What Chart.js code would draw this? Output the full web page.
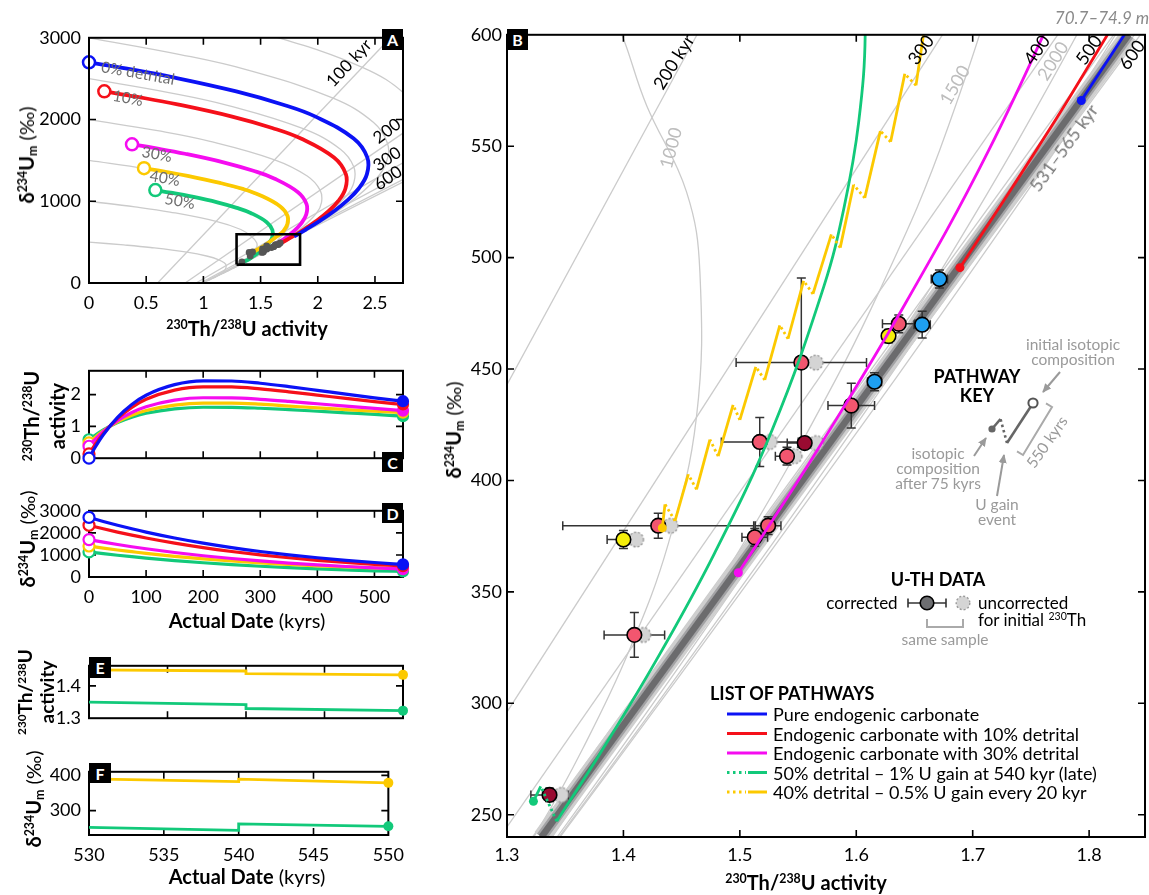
<!DOCTYPE html>
<html><head><meta charset="utf-8"><title>U-series pathways</title>
<script src="https://cdn.jsdelivr.net/npm/chart.js@4.4.1/dist/chart.umd.min.js"></script>
<style>
body{margin:0;background:#fff;}
#wrap{position:relative;width:1149px;height:895px;overflow:hidden;font-family:Lato,'Noto Sans',sans-serif;color:#000;background:#fff;}
canvas{position:absolute;}
.t{position:absolute;white-space:nowrap;transform:translate(-50%,-50%);line-height:1.1;}
.b{font-weight:bold;}
.g{color:#6e6e6e;font-size:15.5px;}
.lg{color:#9a9a9a;font-size:15.5px;text-align:center;line-height:15px;}
.k{font-size:18px;}
.box{position:absolute;background:#000;color:#fff;font-weight:bold;font-size:16px;display:flex;align-items:center;justify-content:center;}
sup{font-size:0.62em;vertical-align:0;position:relative;top:-0.55em;}
sub{font-size:0.62em;vertical-align:0;position:relative;top:0.25em;}
.lt{position:absolute;font-size:18px;white-space:nowrap;transform:translateY(-50%);}
</style></head><body>
<div id="wrap">
<canvas id="cA" width="384" height="304" style="left:29px;top:19px"></canvas>
<canvas id="cC" width="384" height="125" style="left:29px;top:352px"></canvas>
<canvas id="cD" width="384" height="125" style="left:29px;top:492px"></canvas>
<canvas id="cE" width="384" height="90" style="left:29px;top:647px"></canvas>
<canvas id="cF" width="384" height="122" style="left:29px;top:753px"></canvas>
<canvas id="cB" width="692" height="858" style="left:457px;top:19px"></canvas>

<svg width="1149" height="895" style="position:absolute;left:0;top:0">
<defs><marker id="ah" viewBox="0 0 10 10" refX="9" refY="5" markerWidth="4.5" markerHeight="4.5" orient="auto"><path d="M0,0.5 L10,5 L0,9.5 z" fill="#9a9a9a"/></marker></defs>
<line x1="1007" y1="443" x2="1000.5" y2="419" stroke="#666" stroke-width="2.6" stroke-dasharray="2.5,3"/>
<line x1="1000.5" y1="419" x2="992" y2="429" stroke="#666" stroke-width="2.6"/>
<circle cx="992" cy="429" r="3.6" fill="#666"/>
<line x1="1030.5" y1="407" x2="1007" y2="443" stroke="#666" stroke-width="2.6"/>
<circle cx="1033" cy="403" r="4.6" fill="#fff" stroke="#555" stroke-width="2"/>
<polyline points="1046,403.4 1052,407 1023,455 1017,451.4" fill="none" stroke="#aaa" stroke-width="2"/>
<line x1="1060" y1="372" x2="1043" y2="392" stroke="#9a9a9a" stroke-width="2" marker-end="url(#ah)"/>
<line x1="974" y1="456" x2="986" y2="438" stroke="#9a9a9a" stroke-width="2" marker-end="url(#ah)"/>
<line x1="997" y1="496" x2="1004" y2="455" stroke="#9a9a9a" stroke-width="2" marker-end="url(#ah)"/>
<line x1="908" y1="603" x2="946" y2="603" stroke="#333" stroke-width="1.6"/>
<line x1="908" y1="598.5" x2="908" y2="607.5" stroke="#333" stroke-width="1.6"/>
<line x1="946" y1="598.5" x2="946" y2="607.5" stroke="#333" stroke-width="1.6"/>
<circle cx="927" cy="603" r="6.8" fill="#6d6e71" stroke="#000" stroke-width="1.6"/>
<circle cx="963" cy="603" r="6.8" fill="#d5d5d5" stroke="#9a9a9a" stroke-width="1.4" stroke-dasharray="2,2"/>
<polyline points="927,619 927,627 963,627 963,619" fill="none" stroke="#aaa" stroke-width="2"/>
<line x1="727" y1="714" x2="767" y2="714" stroke="#0b12f5" stroke-width="3"/>
<line x1="727" y1="733.5" x2="767" y2="733.5" stroke="#f5101a" stroke-width="3"/>
<line x1="727" y1="753" x2="767" y2="753" stroke="#f50cf0" stroke-width="3"/>
<line x1="727" y1="772.5" x2="746" y2="772.5" stroke="#12c97a" stroke-width="3" stroke-dasharray="2.5,3.5"/>
<line x1="748" y1="772.5" x2="767" y2="772.5" stroke="#12c97a" stroke-width="3"/>
<line x1="727" y1="792" x2="746" y2="792" stroke="#fcc900" stroke-width="3" stroke-dasharray="2.5,3.5"/>
<line x1="748" y1="792" x2="767" y2="792" stroke="#fcc900" stroke-width="3"/>
</svg>

<div class="box" style="left:382px;top:29px;width:21px;height:21px">A</div>
<div class="box" style="left:507px;top:29px;width:21px;height:21px">B</div>
<div class="box" style="left:382px;top:452px;width:21px;height:20px">C</div>
<div class="box" style="left:382px;top:503px;width:21px;height:20px">D</div>
<div class="box" style="left:89px;top:657px;width:22px;height:21px">E</div>
<div class="box" style="left:89px;top:763px;width:22px;height:20px">F</div>

<div class="t b" style="left:247px;top:328px;font-size:20px"><sup>230</sup>Th/<sup>238</sup>U activity</div>
<div class="t" style="left:26px;top:155px;transform:translate(-50%,-50%) rotate(-90deg);font-size:20px"><b>δ<sup>234</sup>U<sub>m</sub></b> (‰)</div>
<div class="t g" style="left:138px;top:73px;transform:translate(-50%,-50%) rotate(10deg)">0% detrital</div>
<div class="t g" style="left:128px;top:98px;transform:translate(-50%,-50%) rotate(10deg)">10%</div>
<div class="t g" style="left:157px;top:154px;transform:translate(-50%,-50%) rotate(10deg)">30%</div>
<div class="t g" style="left:165px;top:178px;transform:translate(-50%,-50%) rotate(10deg)">40%</div>
<div class="t g" style="left:180px;top:201px;transform:translate(-50%,-50%) rotate(10deg)">50%</div>
<div class="t" style="left:349px;top:63px;font-size:17px;transform:translate(-50%,-50%) rotate(-47deg)">100 kyr</div>
<div class="t" style="left:387px;top:131px;font-size:17px;transform:translate(-50%,-50%) rotate(-37deg)">200</div>
<div class="t" style="left:387px;top:159px;font-size:17px;transform:translate(-50%,-50%) rotate(-34deg)">300</div>
<div class="t" style="left:388px;top:178px;font-size:17px;transform:translate(-50%,-50%) rotate(-34deg)">600</div>

<div class="t b" style="left:44px;top:416px;transform:translate(-50%,-50%) rotate(-90deg);font-size:20px;text-align:center;line-height:22px"><sup>230</sup>Th/<sup>238</sup>U<br>activity</div>
<div class="t" style="left:27px;top:539px;transform:translate(-50%,-50%) rotate(-90deg);font-size:20px"><b>δ<sup>234</sup>U<sub>m</sub></b> (‰)</div>
<div class="t" style="left:247px;top:620px;font-size:20px"><b>Actual Date</b> (kyrs)</div>
<div class="t b" style="left:35px;top:692px;transform:translate(-50%,-50%) rotate(-90deg);font-size:19px;text-align:center;line-height:19px"><sup>230</sup>Th/<sup>238</sup>U<br>activity</div>
<div class="t" style="left:33px;top:799px;transform:translate(-50%,-50%) rotate(-90deg);font-size:20px"><b>δ<sup>234</sup>U<sub>m</sub></b> (‰)</div>
<div class="t" style="left:247px;top:876px;font-size:20px"><b>Actual Date</b> (kyrs)</div>

<div class="t b" style="left:806px;top:882px;font-size:20px"><sup>230</sup>Th/<sup>238</sup>U activity</div>
<div class="t" style="left:453px;top:430px;transform:translate(-50%,-50%) rotate(-90deg);font-size:20px"><b>δ<sup>234</sup>U<sub>m</sub></b> (‰)</div>
<div class="t" style="left:1102px;top:18px;font-size:17px;font-style:italic;color:#8a8a8a">70.7–74.9 m</div>
<div class="t k" style="left:674px;top:62px;transform:translate(-50%,-50%) rotate(-58deg)">200 kyr</div>
<div class="t k" style="left:671px;top:148px;color:#bdbdbd;transform:translate(-50%,-50%) rotate(-75deg)">1000</div>
<div class="t k" style="left:921px;top:50px;transform:translate(-50%,-50%) rotate(-55deg)">300</div>
<div class="t k" style="left:955px;top:85px;color:#bdbdbd;transform:translate(-50%,-50%) rotate(-60deg)">1500</div>
<div class="t k" style="left:1037px;top:50px;transform:translate(-50%,-50%) rotate(-55deg)">400</div>
<div class="t k" style="left:1053px;top:61px;color:#bdbdbd;transform:translate(-50%,-50%) rotate(-58deg)">2000</div>
<div class="t k" style="left:1089px;top:50px;transform:translate(-50%,-50%) rotate(-55deg)">500</div>
<div class="t k" style="left:1132px;top:55px;transform:translate(-50%,-50%) rotate(-55deg)">600</div>
<div class="t k" style="left:1064px;top:148px;color:#777;transform:translate(-50%,-50%) rotate(-54deg)">531–565 kyr</div>

<div class="t b" style="left:977px;top:386px;font-size:18px;text-align:center;line-height:19px">PATHWAY<br>KEY</div>
<div class="t lg" style="left:1073px;top:352px">initial isotopic<br>composition</div>
<div class="t lg" style="left:938px;top:468px">isotopic<br>composition<br>after 75 kyrs</div>
<div class="t lg" style="left:997px;top:512px">U gain<br>event</div>
<div class="t lg" style="left:1047px;top:442px;transform:translate(-50%,-50%) rotate(-55deg)">550 kyrs</div>

<div class="t b" style="left:938px;top:580px;font-size:18px">U-TH DATA</div>
<div class="t" style="left:862px;top:603px;font-size:17px">corrected</div>
<div style="position:absolute;left:978px;top:594px;font-size:17px;line-height:17px;white-space:nowrap">uncorrected<br>for initial <sup>230</sup>Th</div>
<div class="t lg" style="left:945px;top:639px">same sample</div>

<div class="lt b" style="left:710px;top:693px">LIST OF PATHWAYS</div>
<div class="lt" style="left:773px;top:714px">Pure endogenic carbonate</div>
<div class="lt" style="left:773px;top:733.5px">Endogenic carbonate with 10% detrital</div>
<div class="lt" style="left:773px;top:753px">Endogenic carbonate with 30% detrital</div>
<div class="lt" style="left:773px;top:772.5px">50% detrital – 1% U gain at 540 kyr (late)</div>
<div class="lt" style="left:773px;top:792px">40% detrital – 0.5% U gain every 20 kyr</div>
</div>

<script>
// ---------------- DATA ----------------
const tKyr   = [0,10,25,50,75,100,150,200,250,300,350,400,450,500,550];
const blueTh = [0,0.3204,0.7373,1.2874,1.6911,1.9806,2.3139,2.4334,2.4296,2.3582,2.2533,2.1350,2.0152,1.9001,1.7933];
const blueU  = [2700,2624.8,2515.8,2344.2,2184.2,2035.3,1767.0,1534.2,1332.0,1156.4,1004.0,871.7,756.9,657.1,570.5];
const redTh  = [0.134,0.4121,0.7739,1.2512,1.6016,1.8527,2.1418,2.2454,2.2419,2.1799,2.0886,1.9859,1.8818,1.7818,1.6890];
const redU   = [2345,2279.6,2185.0,2036.0,1897.1,1767.7,1534.7,1332.5,1156.9,1004.4,872.0,757.1,657.4,570.7,495.5];
const magTh  = [0.376,0.5770,0.8385,1.1835,1.4366,1.6181,1.8270,1.9017,1.8990,1.8539,1.7879,1.7135,1.6381,1.5658,1.4987];
const magU   = [1697,1649.7,1581.2,1473.4,1372.8,1279.2,1110.6,964.3,837.2,726.8,631.0,547.9,475.7,413.0,358.6];
const yelTh  = [0.481,0.648,0.862,1.145,1.352,1.500,1.672,1.735,1.735,1.700,1.641,1.583,1.530,1.478,1.434];
const yelU   = [1405,1366,1311,1225,1148,1071,937,823,725,637,568,507,456,413,379];
const grnTh  = [0.58,0.7148,0.8903,1.1218,1.2916,1.4134,1.5536,1.6038,1.6021,1.5721,1.5278,1.4780,1.4275,1.3790,1.3234];
const grnU   = [1137,1105.3,1059.4,987.2,919.8,857.1,744.1,646.1,560.9,487.0,422.8,367.1,318.7,276.7,255.7];

const tLate      = [530,540,540,550];
const yelThLate  = [1.4496,1.4460,1.4377,1.4340];
const grnThLate  = [1.3500,1.3420,1.3300,1.3234];
const yelULate   = [390.2,382.0,389.3,378.7];
const grnULate   = [252.5,244.3,262.3,255.7];

const isoAges  = [100,200,300,400,500,600];
const isoA_x0  = [0.600,0.840,0.936,0.974,0.990,0.996];
const isoA_x3k = [2.635,3.956,4.626,4.968,5.146,5.238];
const arc500X  = [0,0.3033,0.5378,0.8555,1.0370,1.1350,1.1822,1.1994,1.1893,1.1583,1.1256,1.0742,1.0427];
const arc500U  = [500,465.9,434.1,376.9,327.2,284.1,246.7,214.2,161.4,121.7,91.7,52.1,29.6];
const arc1000X = [0,0.4019,0.7081,1.1112,1.3273,1.4200,1.4657,1.4627,1.4043,1.3269,1.2554,1.1493,1.0854];
const arc1000U = [1000,931.8,868.2,753.8,654.5,568.2,493.3,428.3,322.9,243.4,183.5,104.3,59.2];
const arc1500X = [0,0.5006,0.8785,1.3669,1.6175,1.7251,1.7492,1.7262,1.6192,1.4955,1.3850,1.2241,1.1283];
const arc1500U = [1500,1397.7,1302.3,1130.7,981.7,852.3,740.0,642.5,484.3,365.1,275.2,156.4,88.9];
const arc2000X = [0,0.5992,1.0489,1.6226,1.9076,2.0202,2.0327,1.9895,1.8341,1.6640,1.5147,1.2990,1.1710];
const arc2000U = [2000,1863.6,1736.4,1507.6,1308.9,1136.4,986.7,856.6,645.7,486.7,366.9,208.5,118.5];
const arc2500X = [0,0.6979,1.2193,1.8783,2.1979,2.3153,2.3163,2.2529,2.0491,1.8326,1.6444,1.3740,1.2137];
const arc2500U = [2500,2329.5,2170.5,1884.5,1636.2,1420.5,1233.4,1070.8,807.2,608.4,458.6,260.7,148.1];
const arc3000X = [0,0.7965,1.3896,2.1340,2.4881,2.6104,2.5997,2.5163,2.2640,2.0012,1.7741,1.4489,1.2565];
const arc3000U = [3000,2795.3,2604.6,2261.4,1963.4,1704.6,1480.0,1284.9,968.6,730.1,550.4,312.8,177.7];
const arc3500X = [0,0.8952,1.5600,2.3897,2.7783,2.9055];
const arc3500U = [3500,3261.2,3038.7,2638.3,2290.6,1988.7];
const boxX = [1.29,1.845,1.845,1.29,1.29];
const boxU = [225,225,597,597,225];

const isoB_xLo = [1.089,1.231,1.294,1.322,1.335];
const isoB_xHi = [1.4632,1.674,1.773,1.821,1.844];
const isoB_yLo = 240, isoB_yHi = 600;
const bandX = [1.3296,1.8340];
const bandU = [240,600];
const c1000X = [1.3273,1.3894,1.4200,1.4542,1.4657,1.4627,1.4387,1.4043,1.3657,1.3269,1.2554];
const c1000U = [654.5,609.8,568.2,529.5,493.3,428.3,371.9,322.9,280.3,243.4,183.5];
const c1500X = [1.7492,1.7262,1.6783,1.6192,1.5568,1.4955,1.4379,1.3850,1.3373,1.2948];
const c1500U = [740.0,642.5,557.8,484.3,420.5,365.1,317.0,275.2,238.9,207.4];
const c2000X = [1.9178,1.8341,1.7478,1.6640,1.5860,1.5147,1.4507,1.3937,1.3432,1.2990];
const c2000U = [743.7,645.7,560.7,486.7,422.6,366.9,318.6,276.6,240.1,208.5];
const c2500X = [1.9388,1.8326,1.7341,1.6444,1.5640,1.4924,1.4294,1.3740,1.3254];
const c2500U = [700.9,608.4,528.3,458.6,398.2,345.7,300.2,260.7,226.3];
const c3000X = [2.0012,1.8822,1.7741,1.6774,1.5912,1.4489,1.3395];
const c3000U = [730.1,633.9,550.4,477.9,414.8,312.8,235.7];
const bBlueX = [1.9001,1.8456,1.7933];
const bBlueU = [657.1,612.3,570.5];
const bRedX  = [1.8818,1.7818,1.7344,1.6890];
const bRedU  = [657.4,570.7,531.8,495.5];
const bMagX  = [1.7879,1.7135,1.6381,1.5658,1.5314,1.4987];
const bMagU  = [631.0,547.9,475.7,413.0,384.8,358.6];
const bGrnX  = [1.6038,1.6077,1.6021,1.5896,1.5721,1.5278,1.4780,1.4275,1.3790,1.3427,1.3290,1.3227];
const bGrnU  = [646.1,602.0,560.9,522.7,487.0,422.8,367.1,318.7,276.7,247.1,262.7,256.0];
const bYelX  = [1.6578,1.6513,1.6417,1.6295,1.6207,1.6073,1.5977,1.5862,1.5786,1.5628,1.5548,1.5414,1.5343,1.5214,1.5137,1.5000,1.4942,1.4814,1.4743,1.4628,1.4557,1.4443,1.4357,1.4334];
const bYelU  = [600.3,577.3,582.5,552.0,556.8,526.8,532.7,504.5,510.4,483.7,489.6,463.6,469.6,445.1,451.0,427.2,433.9,410.9,418.3,396.0,402.7,381.9,389.3,378.7];
const sampX    = [1.5528,1.5171,1.5557,1.5405,1.5957,1.6157,1.6365,1.6277,1.6566,1.6714,1.4299,1.4000,1.5243,1.5128,1.4094,1.3365];
const sampU    = [452.9,417.3,416.8,410.9,433.6,444.3,470.3,464.8,469.9,490.4,379.7,373.5,379.7,374.5,330.7,258.9];
const sampXerr = [0.056,0.033,0.015,0.010,0.020,0.006,0.014,0.004,0.007,0.007,0.082,0.014,0.011,0.011,0.026,0.016];
const sampUerr = [38,11,2,4,10,4,4,3,6,4,5.6,4,4,4,10,3];
const uncorrX  = [1.5651,1.5257,1.5657,1.5471,null,null,null,null,null,null,1.4405,1.4109,null,null,1.4171,1.3465];
const sampType = ['pink','pink','maroon','pink','pink','blue','pink','yellow','blue','blue','pink','yellow','pink','pink','pink','maroon'];

// ---------------- STYLE ----------------
const COL = {blue:'#0b12f5', red:'#f5101a', mag:'#f50cf0', yel:'#fcc900', grn:'#12c97a'};
const PTC = {pink:'#f2566f', maroon:'#990b31', yellow:'#f4ee0b', blue:'#1e9ff1'};
const GREY = '#cbcbcb';
Chart.defaults.font.family = "Lato, 'Noto Sans', sans-serif";

const pts = (xs, ys) => xs.map((x, i) => ({x, y: ys[i]}));
function ln(xs, ys, color, w, extra) {
  return Object.assign({data: pts(xs, ys), showLine: true, borderColor: color, borderWidth: w,
    pointRadius: 0, pointHoverRadius: 0, fill: false, clip: 0, tension: 0}, extra || {});
}
const lastIdx = c => c.dataIndex === c.dataset.data.length - 1;
const endDot = (color, r) => ({pointRadius: c => lastIdx(c) ? r : 0, pointBackgroundColor: color, pointBorderColor: color, pointBorderWidth: 0});
const startEnd = (color, r0, r1) => ({clip: false,
  pointRadius: c => c.dataIndex === 0 ? r0 : (lastIdx(c) ? r1 : 0),
  pointBackgroundColor: c => c.dataIndex === 0 ? '#fff' : color,
  pointBorderColor: color, pointBorderWidth: 2.2});
const jumpDash = {segment: {borderDash: c => c.p1.parsed.y > c.p0.parsed.y ? [2.5, 3] : undefined}};

const framePlugin = {
  id: 'frame',
  _draw(chart) {
    const {ctx, chartArea: a} = chart;
    const len = 7;
    ctx.save();
    ctx.strokeStyle = '#000';
    ctx.lineWidth = 1.6;
    ctx.beginPath();
    for (const id of ['x', 'y']) {
      const s = chart.scales[id];
      for (const t of s.ticks) {
        const p = s.getPixelForValue(t.value);
        if (id === 'x') {
          if (p <= a.left + 2 || p >= a.right - 2) continue;
          ctx.moveTo(p, a.bottom); ctx.lineTo(p, a.bottom - len);
          ctx.moveTo(p, a.top); ctx.lineTo(p, a.top + len);
        } else {
          if (p <= a.top + 2 || p >= a.bottom - 2) continue;
          ctx.moveTo(a.left, p); ctx.lineTo(a.left + len, p);
          ctx.moveTo(a.right, p); ctx.lineTo(a.right - len, p);
        }
      }
    }
    ctx.stroke();
    ctx.lineWidth = 2;
    ctx.strokeRect(a.left, a.top, a.right - a.left, a.bottom - a.top);
    ctx.restore();
  },
  beforeDatasetsDraw(chart, args, o) { if (o.under) this._draw(chart); },
  afterDatasetsDraw(chart, args, o) { if (!o.under) this._draw(chart); }
};

const errPlugin = {
  id: 'err',
  beforeDatasetDraw(chart, args) {
    const ds = chart.data.datasets[args.index];
    if (!ds.drawErrors) return;
    const {ctx, chartArea: a} = chart;
    const x = chart.scales.x, y = chart.scales.y;
    const cap = 4.5;
    ctx.save();
    ctx.beginPath(); ctx.rect(a.left, a.top, a.right - a.left, a.bottom - a.top); ctx.clip();
    ctx.strokeStyle = '#333'; ctx.lineWidth = 1.5;
    ctx.beginPath();
    sampX.forEach((v, i) => {
      const px = x.getPixelForValue(v), py = y.getPixelForValue(sampU[i]);
      const x0 = x.getPixelForValue(v - sampXerr[i]), x1 = x.getPixelForValue(v + sampXerr[i]);
      const y0 = y.getPixelForValue(sampU[i] - sampUerr[i]), y1 = y.getPixelForValue(sampU[i] + sampUerr[i]);
      ctx.moveTo(x0, py); ctx.lineTo(x1, py);
      ctx.moveTo(x0, py - cap); ctx.lineTo(x0, py + cap);
      ctx.moveTo(x1, py - cap); ctx.lineTo(x1, py + cap);
      ctx.moveTo(px, y0); ctx.lineTo(px, y1);
      ctx.moveTo(px - cap, y0); ctx.lineTo(px + cap, y0);
      ctx.moveTo(px - cap, y1); ctx.lineTo(px + cap, y1);
    });
    ctx.stroke();
    ctx.restore();
  }
};

function sc(min, max, step, fit, show, pad) {
  return {
    type: 'linear', min, max,
    grid: {display: false, drawTicks: false}, border: {display: false},
    ticks: {stepSize: step, includeBounds: false, display: show, padding: pad, font: {size: 18}, color: '#000',
      maxRotation: 0, autoSkip: false, callback: v => String(+(+v).toFixed(3))},
    afterFit: s => { if (s.isHorizontal()) s.height = fit; else s.width = fit; }
  };
}
function mk(id, datasets, xs, ys, pad, frameOpts, extraPlugins) {
  return new Chart(document.getElementById(id), {
    type: 'scatter',
    data: {datasets},
    options: {
      responsive: false, animation: false, events: [], devicePixelRatio: 1,
      layout: {autoPadding: false, padding: pad},
      plugins: {legend: {display: false}, tooltip: {enabled: false}, frame: frameOpts || {}},
      scales: {x: xs, y: ys}
    },
    plugins: [framePlugin].concat(extraPlugins || [])
  });
}

// ---------------- PANEL A ----------------
const dsA = [];
[[arc500X,arc500U],[arc1000X,arc1000U],[arc1500X,arc1500U],[arc2000X,arc2000U],[arc2500X,arc2500U],[arc3000X,arc3000U],[arc3500X,arc3500U]]
  .forEach(([xs, ys]) => dsA.push(ln(xs, ys, GREY, 1.3, {tension: 0.4, order: 50})));
isoAges.forEach((age, i) => dsA.push(ln([isoA_x0[i], isoA_x3k[i]], [0, 3000], GREY, 1.3, {order: 51})));
const startCircle = (color) => ({clip: false, pointRadius: c => c.dataIndex === 0 ? 6 : 0,
  pointBackgroundColor: '#fff', pointBorderColor: color, pointBorderWidth: 2.5});
dsA.push(ln(grnTh, grnU, COL.grn, 3.8, Object.assign({tension: 0.4, order: 5}, startCircle(COL.grn))));
dsA.push(ln(yelTh, yelU, COL.yel, 3.8, Object.assign({tension: 0.4, order: 4}, startCircle(COL.yel))));
dsA.push(ln(magTh, magU, COL.mag, 3.8, Object.assign({tension: 0.4, order: 3}, startCircle(COL.mag))));
dsA.push(ln(redTh, redU, COL.red, 3.8, Object.assign({tension: 0.4, order: 2}, startCircle(COL.red))));
dsA.push(ln(blueTh, blueU, COL.blue, 3.8, Object.assign({tension: 0.4, order: 1}, startCircle(COL.blue))));
dsA.push({data: pts(sampX, sampU), showLine: false, pointRadius: 3.4, pointBackgroundColor: '#555', pointBorderWidth: 0, order: 0.5});
dsA.push(ln(boxX, boxU, '#000', 2.6, {order: 0, clip: false}));
mk('cA', dsA, sc(0, 2.745, 0.5, 40, true, 9), sc(0, 3000, 1000, 60, true, 8), {top: 10, right: 10, left: 0, bottom: 0});

// ---------------- PANELS C, D ----------------
function timeSets(vals) {
  const list = [[grnTh, grnU, COL.grn], [yelTh, yelU, COL.yel], [magTh, magU, COL.mag], [redTh, redU, COL.red], [blueTh, blueU, COL.blue]];
  return list.map(([th, u, c], k) => ln(tKyr, vals === 'th' ? th : u, c, 3.2,
    Object.assign({cubicInterpolationMode: 'monotone', order: 5 - k}, startEnd(c, 5.5, 5))));
}
mk('cC', timeSets('th'), sc(0, 550, 100, 0, false, 8), sc(0, 2.75, 1, 60, true, 8), {top: 10, right: 10, left: 0, bottom: 4}, {under: true});
mk('cD', timeSets('u'), sc(0, 550, 100, 40, true, 9), sc(0, 3000, 1000, 60, true, 8), {top: 10, right: 10, left: 0, bottom: 0}, {under: true});

// ---------------- PANELS E, F ----------------
mk('cE', [ln(tLate, yelThLate, COL.yel, 2.8, Object.assign({clip: false}, endDot(COL.yel, 5))),
          ln(tLate, grnThLate, COL.grn, 2.8, Object.assign({clip: false}, endDot(COL.grn, 5)))],
   sc(530, 550, 5, 0, false, 8), sc(1.3, 1.462, 0.1, 60, true, 8), {top: 10, right: 10, left: 0, bottom: 4}, {under: true});
mk('cF', [ln(tLate, yelULate, COL.yel, 2.8, Object.assign({clip: false}, endDot(COL.yel, 5))),
          ln(tLate, grnULate, COL.grn, 2.8, Object.assign({clip: false}, endDot(COL.grn, 5)))],
   sc(530, 550, 5, 40, true, 9), sc(231, 410, 100, 60, true, 8), {top: 10, right: 10, left: 0, bottom: 0}, {under: true});

// ---------------- PANEL B ----------------
function dashedCircle(r) {
  const c = document.createElement('canvas'); const s = Math.ceil(2 * r + 4);
  c.width = s; c.height = s;
  const g = c.getContext('2d');
  g.beginPath(); g.arc(s / 2, s / 2, r, 0, Math.PI * 2);
  g.fillStyle = '#d4d4d4'; g.fill();
  g.setLineDash([2.2, 1.8]); g.lineWidth = 1.4; g.strokeStyle = '#9a9a9a'; g.stroke();
  return c;
}
const dsB = [];
isoB_xLo.forEach((x0, i) => dsB.push(ln([x0, isoB_xHi[i]], [isoB_yLo, isoB_yHi], GREY, 1.3, {order: 40})));
[[c1000X,c1000U],[c1500X,c1500U],[c2000X,c2000U],[c2500X,c2500U],[c3000X,c3000U]]
  .forEach(([xs, ys]) => dsB.push(ln(xs, ys, GREY, 1.3, {tension: 0.4, order: 41})));
dsB.push(ln(bandX, bandU, '#cfcfcf', 17, {order: 32}));
dsB.push(ln(bandX, bandU, '#a2a2a4', 11, {order: 31}));
dsB.push(ln(bandX, bandU, '#6b6b6d', 6.5, {order: 30}));
const uncIdx = uncorrX.map((v, i) => v === null ? -1 : i).filter(i => i >= 0);
dsB.push({data: uncIdx.map(i => ({x: uncorrX[i], y: sampU[i]})), showLine: false, drawErrors: true,
  pointStyle: dashedCircle(7.3), pointRadius: 7.3, order: 12});
dsB.push({data: pts(sampX, sampU), showLine: false, pointRadius: 7.3, pointBorderWidth: 1.6, pointBorderColor: '#000',
  pointBackgroundColor: sampType.map(t => PTC[t]), order: 11});
dsB.push(ln(bBlueX, bBlueU, COL.blue, 2.8, Object.assign({tension: 0.3, order: 6}, endDot(COL.blue, 4.5))));
dsB.push(ln(bRedX, bRedU, COL.red, 2.8, Object.assign({tension: 0.3, order: 5}, endDot(COL.red, 4.5))));
dsB.push(ln(bMagX, bMagU, COL.mag, 2.8, Object.assign({tension: 0.4, order: 4}, endDot(COL.mag, 4.5))));
dsB.push(ln(bGrnX.slice(0, 10), bGrnU.slice(0, 10), COL.grn, 2.8, {tension: 0.4, order: 3}));
dsB.push(ln(bGrnX.slice(9), bGrnU.slice(9), COL.grn, 2.8, Object.assign({order: 2}, jumpDash, endDot(COL.grn, 4.5))));
dsB.push(ln(bYelX, bYelU, COL.yel, 2.8, Object.assign({order: 1}, jumpDash, endDot(COL.yel, 4.5))));
mk('cB', dsB, sc(1.3, 1.848, 0.1, 40, true, 7), sc(240, 600, 50, 50, true, 5), {top: 10, right: 4, left: 0, bottom: 0}, {}, [errPlugin]);
</script>
</body></html>
